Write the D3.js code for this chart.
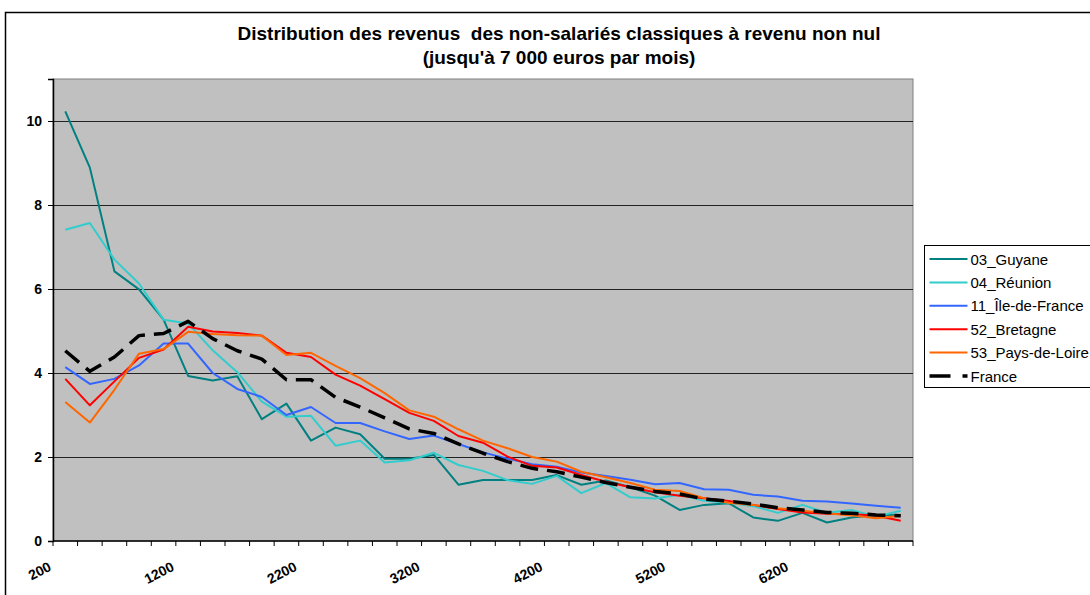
<!DOCTYPE html>
<html>
<head>
<meta charset="utf-8">
<script src="https://cdn.jsdelivr.net/npm/d3@7"></script>
<style>
  body { margin: 0; background: #fff; }
  svg { display: block; font-family: Arial, "Liberation Sans", sans-serif; }
  .chart-title { font-size: 19px; font-weight: bold; white-space: pre; }
  .y-axis text, .x-label { font-size: 14px; font-weight: bold; }
  .legend text { font-size: 15px; }
</style>
</head>
<body>
<div id="chart-container"></div>
<script>
// data (share of people, %, per 200-euro income band)
const categories = [200, 400, 600, 800, 1000, 1200, 1400, 1600, 1800, 2000,
  2200, 2400, 2600, 2800, 3000, 3200, 3400, 3600, 3800, 4000,
  4200, 4400, 4600, 4800, 5000, 5200, 5400, 5600, 5800, 6000,
  6200, 6400, 6600, 6800, 7000];
const tickLabels = ["200", "1200", "2200", "3200", "4200", "5200", "6200"];
const yTicks = [0, 2, 4, 6, 8, 10];

const guyane = [10.23, 8.89, 6.42, 5.99, 5.27, 3.93, 3.82, 3.92, 2.90, 3.27,
  2.39, 2.70, 2.54, 1.96, 1.96, 2.05, 1.34, 1.45, 1.45, 1.45,
  1.57, 1.34, 1.44, 1.28, 1.08, 0.74, 0.86, 0.90, 0.56, 0.48,
  0.67, 0.44, 0.56, 0.62, 0.62];
const reunion = [7.41, 7.57, 6.70, 6.13, 5.27, 5.18, 4.54, 4.02, 3.32, 2.96,
  2.98, 2.27, 2.39, 1.87, 1.92, 2.10, 1.81, 1.67, 1.45, 1.36,
  1.55, 1.14, 1.38, 1.04, 1.01, 1.10, 0.96, 0.91, 0.83, 0.67,
  0.86, 0.67, 0.74, 0.58, 0.72];
const ileDeFrance = [4.14, 3.74, 3.86, 4.18, 4.70, 4.70, 4.00, 3.62, 3.43, 3.00,
  3.19, 2.81, 2.81, 2.61, 2.43, 2.51, 2.31, 2.11, 1.96, 1.83,
  1.77, 1.63, 1.55, 1.46, 1.35, 1.38, 1.23, 1.22, 1.10, 1.06,
  0.96, 0.94, 0.89, 0.84, 0.79];
const bretagne = [3.86, 3.23, 3.80, 4.36, 4.56, 5.10, 4.99, 4.95, 4.89, 4.48,
  4.38, 3.96, 3.70, 3.38, 3.05, 2.86, 2.50, 2.34, 2.01, 1.79,
  1.75, 1.57, 1.41, 1.28, 1.16, 1.08, 1.02, 0.95, 0.86, 0.76,
  0.68, 0.65, 0.64, 0.60, 0.48];
const paysDeLoire = [3.31, 2.82, 3.60, 4.46, 4.57, 4.98, 4.93, 4.90, 4.89, 4.43,
  4.48, 4.17, 3.88, 3.52, 3.11, 2.96, 2.66, 2.39, 2.21, 2.00,
  1.89, 1.65, 1.52, 1.38, 1.22, 1.19, 1.02, 0.91, 0.86, 0.78,
  0.72, 0.66, 0.61, 0.54, 0.60];
const france = [4.53, 4.04, 4.38, 4.89, 4.94, 5.23, 4.82, 4.53, 4.33, 3.84,
  3.84, 3.42, 3.19, 2.93, 2.67, 2.56, 2.31, 2.09, 1.89, 1.73,
  1.65, 1.52, 1.39, 1.28, 1.18, 1.12, 1.00, 0.95, 0.88, 0.79,
  0.74, 0.68, 0.66, 0.62, 0.60];

const series = [
  { name: "03_Guyane", values: guyane, color: "#008080", width: 2 },
  { name: "04_Réunion", values: reunion, color: "#33CCCC", width: 2 },
  { name: "11_Île-de-France", values: ileDeFrance, color: "#3366FF", width: 2 },
  { name: "52_Bretagne", values: bretagne, color: "#FF0000", width: 2 },
  { name: "53_Pays-de-Loire", values: paysDeLoire, color: "#FF6600", width: 2 },
  { name: "France", values: france, color: "#000000", width: 3.5, dash: "18,9" }
];

// Set up the chart dimensions
const margin = { top: 79, right: 177, bottom: 54, left: 53 };
const fullWidth = 1090, fullHeight = 595;
const width = fullWidth - margin.left - margin.right;
const height = fullHeight - margin.top - margin.bottom;

const root = d3.select("#chart-container")
  .append("svg")
  .attr("width", fullWidth)
  .attr("height", fullHeight);

// chart frame (runs off the right and bottom edges)
root.append("rect")
  .attr("x", 5.5).attr("y", 12.5)
  .attr("width", 1200).attr("height", 700)
  .attr("fill", "#fff")
  .attr("stroke", "#000")
  .attr("stroke-width", 1.5);

root.append("text")
  .attr("class", "chart-title")
  .attr("x", 559).attr("y", 40)
  .attr("text-anchor", "middle")
  .text("Distribution des revenus  des non-salariés classiques à revenu non nul");
root.append("text")
  .attr("class", "chart-title")
  .attr("x", 559).attr("y", 64)
  .attr("text-anchor", "middle")
  .text("(jusqu'à 7 000 euros par mois)");

const svg = root.append("g")
  .attr("transform", "translate(" + margin.left + "," + margin.top + ")");

// Create x and y scales
const x = d3.scaleBand()
  .domain(categories)
  .range([0, width]);

const y = d3.scaleLinear()
  .domain([0, 11])
  .range([height, 0]);

// plot area
svg.append("rect")
  .attr("width", width).attr("height", height)
  .attr("fill", "#C0C0C0")
  .attr("stroke", "#808080")
  .attr("stroke-width", 1);

// gridlines
svg.selectAll(".grid")
  .data(yTicks.filter(d => d > 0))
  .enter().append("line")
  .attr("x1", 0).attr("x2", width)
  .attr("y1", d => Math.round(y(d)) + 0.5)
  .attr("y2", d => Math.round(y(d)) + 0.5)
  .attr("stroke", "#222")
  .attr("stroke-width", 1);

// lines
const line = d3.line()
  .x((d, i) => x(categories[i]) + x.bandwidth() / 2)
  .y(d => y(d));

svg.selectAll(".series")
  .data(series)
  .enter().append("path")
  .attr("class", "series")
  .attr("d", d => line(d.values))
  .attr("fill", "none")
  .attr("stroke", d => d.color)
  .attr("stroke-width", d => d.width)
  .attr("stroke-dasharray", d => d.dash || null)
  .attr("stroke-linejoin", "round");

// y axis
const yAxis = svg.append("g")
  .attr("class", "y-axis")
  .call(d3.axisLeft(y).tickValues(yTicks).tickSize(5).tickPadding(6).tickFormat(d3.format("d")));
yAxis.select(".domain").attr("stroke", "#000").attr("stroke-width", 1.5);
yAxis.selectAll("line").attr("stroke", "#000");
yAxis.selectAll("text").attr("fill", "#000");

// x axis: ticks sit on the band edges, like the spreadsheet
const xAxis = svg.append("g")
  .attr("class", "x-axis")
  .attr("transform", "translate(0," + height + ")");
xAxis.append("line")
  .attr("x1", 0).attr("x2", width)
  .attr("stroke", "#000").attr("stroke-width", 1.5);
xAxis.selectAll(".tick")
  .data(categories.concat(["end"]))
  .enter().append("line")
  .attr("x1", d => d === "end" ? width : x(d))
  .attr("x2", d => d === "end" ? width : x(d))
  .attr("y1", 0).attr("y2", 5)
  .attr("stroke", "#000");
xAxis.selectAll(".x-label")
  .data(tickLabels)
  .enter().append("text")
  .attr("class", "x-label")
  .attr("text-anchor", "end")
  .attr("transform", d => "translate(" + (x(+d) + x.bandwidth() / 2 - 13) + ",29) rotate(-27)")
  .text(d => d);

// legend
const legend = root.append("g")
  .attr("class", "legend")
  .attr("transform", "translate(924.5,245.5)");
legend.append("rect")
  .attr("width", 200).attr("height", 142)
  .attr("fill", "#fff").attr("stroke", "#000");
const items = legend.selectAll(".item")
  .data(series)
  .enter().append("g")
  .attr("transform", (d, i) => "translate(0," + (13.5 + i * 23.4) + ")");
items.append("line")
  .attr("x1", 5).attr("x2", 43)
  .attr("stroke", d => d.color)
  .attr("stroke-width", d => d.dash ? 3.5 : 2)
  .attr("stroke-dasharray", d => d.dash ? "21,12" : null);
items.append("text")
  .attr("x", 46).attr("y", 5.5)
  .text(d => d.name);
</script>
</body>
</html>
